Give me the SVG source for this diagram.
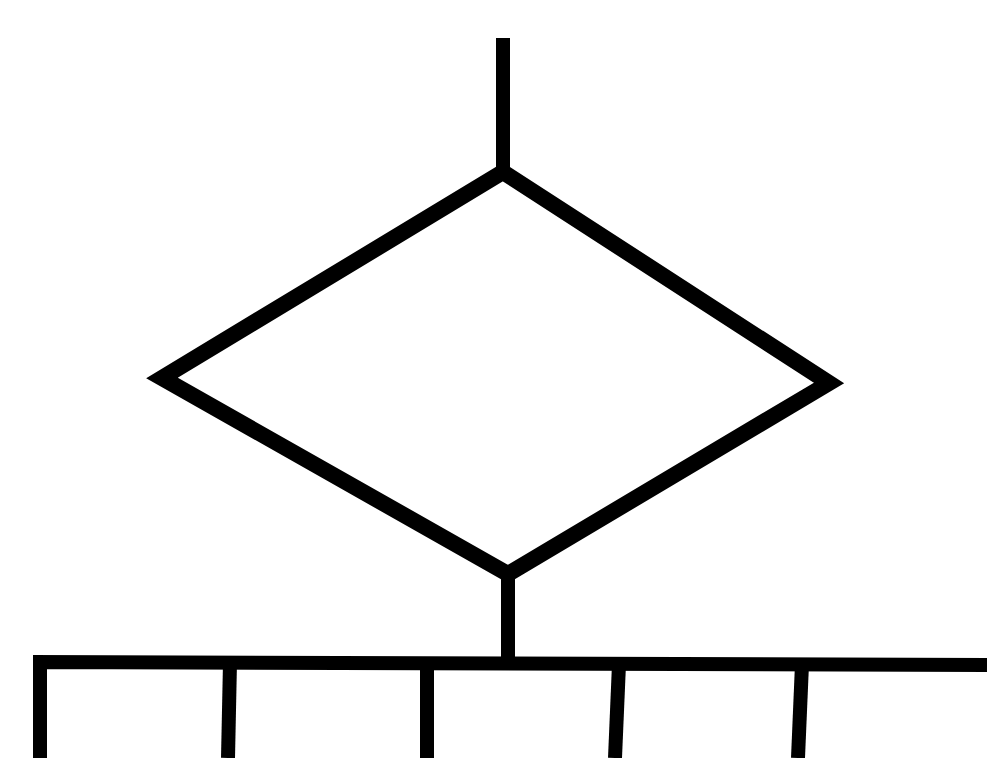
<svg xmlns="http://www.w3.org/2000/svg" width="987" height="758" viewBox="0 0 987 758">
<style>
.ln{fill:none;stroke:#000;stroke-width:14;stroke-linejoin:miter;stroke-linecap:butt}
.dm{stroke-width:16}
</style>
<rect width="987" height="758" fill="#fff"/>
<g id="decision">
<polygon class="ln dm" points="503,172 829,383 508,574 162,378"/>
</g>
<g id="connectors">
<line class="ln" x1="503" y1="38" x2="503" y2="172"/>
<line class="ln" x1="508" y1="575" x2="508" y2="662"/>
<polyline class="ln" points="40,758 40,662 987,665"/>
<line class="ln" x1="230" y1="662" x2="228" y2="758"/>
<line class="ln" x1="427" y1="663" x2="427" y2="758"/>
<line class="ln" x1="619" y1="664" x2="615" y2="758"/>
<line class="ln" x1="802" y1="664" x2="798" y2="758"/>
</g>
</svg>
